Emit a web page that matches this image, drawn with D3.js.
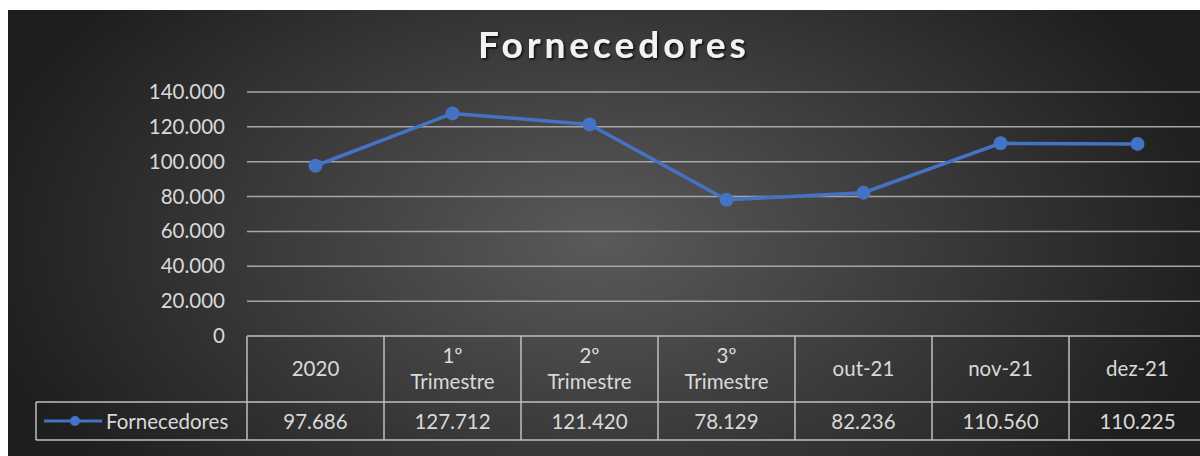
<!DOCTYPE html>
<html>
<head>
<meta charset="utf-8">
<script src="https://cdn.jsdelivr.net/npm/d3@7"></script>
<style>
  body { margin: 0; background: #fff; }
  svg { display: block; }
</style>
</head>
<body>
<div id="chart"></div>
<script>
var categories = ["2020", "1º|Trimestre", "2º|Trimestre", "3º|Trimestre", "out-21", "nov-21", "dez-21"];
var values = [97686, 127712, 121420, 78129, 82236, 110560, 110225];
var yTicks = [0, 20000, 40000, 60000, 80000, 100000, 120000, 140000];
var seriesName = "Fornecedores";

document.addEventListener('DOMContentLoaded', function(){
    var width = 1200, height = 456;
    var left = 247, right = 1206, top = 92, bottom = 336;
    var font = "Lato, 'Open Sans', sans-serif";
    var fs = 20.5;

    var svg = d3.select("#chart").append("svg")
        .attr("width", width)
        .attr("height", height);

    var defs = svg.append("defs");
    var grad = defs.append("radialGradient").attr("id", "bg")
        .attr("gradientUnits", "userSpaceOnUse")
        .attr("cx", 600).attr("cy", 240).attr("r", 620)
        .attr("gradientTransform", "translate(600,240) scale(1,0.6) translate(-600,-240)");
    grad.append("stop").attr("offset", "0%").attr("stop-color", "#5a5a5a");
    grad.append("stop").attr("offset", "100%").attr("stop-color", "#1f1f1f");

    var shadow = defs.append("filter").attr("id", "shadow");
    shadow.append("feDropShadow").attr("dx", 1.5).attr("dy", 1.5)
        .attr("stdDeviation", 1.2).attr("flood-color", "#000").attr("flood-opacity", 0.8);

    svg.append("rect").attr("x", 8).attr("y", 10)
        .attr("width", width - 8).attr("height", height - 10)
        .attr("fill", "url(#bg)");

    var x = d3.scaleBand().domain(categories).range([left, right]);
    var y = d3.scaleLinear().domain([0, 140000]).range([bottom, top]);

    // title
    svg.append("text")
        .attr("x", 614).attr("y", 58)
        .attr("text-anchor", "middle")
        .attr("font-family", font)
        .attr("font-weight", "bold")
        .attr("font-size", 37)
        .attr("letter-spacing", 4)
        .attr("fill", "#f2f2f2")
        .attr("filter", "url(#shadow)")
        .text("Fornecedores");

    // gridlines
    svg.append("g").selectAll("line")
        .data(yTicks.filter(function(d){ return d > 0; }))
        .enter().append("line")
        .attr("x1", left).attr("x2", width)
        .attr("y1", function(d){ return y(d); })
        .attr("y2", function(d){ return y(d); })
        .attr("stroke", "#a6a6a6")
        .attr("stroke-width", 1.5);

    // y axis labels
    var fmt = function(d){ return d === 0 ? "0" : d3.format(",")(d).replace(/,/g, "."); };
    var yAxis = d3.axisLeft(y).tickValues(yTicks).tickSize(0).tickPadding(0).tickFormat(fmt);
    var ya = svg.append("g").attr("transform", "translate(" + (left - 22) + ",0)").call(yAxis);
    ya.select(".domain").remove();
    ya.selectAll("text")
        .attr("font-family", font)
        .attr("font-size", fs)
        .attr("fill", "#d9d9d9")
        .attr("dy", "0.32em");

    // data table
    var tableTop = bottom, rowDiv = 402, tableBottom = 440, legendLeft = 36;
    var grid = svg.append("g").attr("stroke", "#bfbfbf").attr("stroke-width", 1.5).attr("fill", "none");
    grid.append("line").attr("x1", left).attr("x2", width).attr("y1", tableTop).attr("y2", tableTop);
    grid.append("line").attr("x1", legendLeft).attr("x2", width).attr("y1", rowDiv).attr("y2", rowDiv);
    grid.append("line").attr("x1", legendLeft).attr("x2", width).attr("y1", tableBottom).attr("y2", tableBottom);
    grid.append("line").attr("x1", legendLeft).attr("x2", legendLeft).attr("y1", rowDiv).attr("y2", tableBottom);
    grid.selectAll("line.col").data(categories).enter().append("line")
        .attr("class", "col")
        .attr("x1", function(d){ return x(d); })
        .attr("x2", function(d){ return x(d); })
        .attr("y1", tableTop).attr("y2", tableBottom);

    var cats = svg.append("g").selectAll("text").data(categories).enter().append("text")
        .attr("x", function(d){ return x(d) + x.bandwidth() / 2; })
        .attr("y", function(d){ return d.indexOf("|") >= 0 ? 363 : 376; })
        .attr("text-anchor", "middle")
        .attr("font-family", font)
        .attr("font-size", fs)
        .attr("fill", "#d9d9d9");
    cats.each(function(d){
        var parts = d.split("|");
        var t = d3.select(this);
        parts.forEach(function(p, i){
            t.append("tspan")
                .attr("x", x(d) + x.bandwidth() / 2)
                .attr("dy", i === 0 ? 0 : 26)
                .text(p);
        });
    });

    svg.append("g").selectAll("text").data(values).enter().append("text")
        .attr("x", function(d, i){ return x(categories[i]) + x.bandwidth() / 2; })
        .attr("y", 429)
        .attr("text-anchor", "middle")
        .attr("font-family", font)
        .attr("font-size", fs)
        .attr("fill", "#d9d9d9")
        .text(function(d){ return fmt(d); });

    // legend key
    svg.append("line").attr("x1", 44).attr("x2", 102).attr("y1", 421).attr("y2", 421)
        .attr("stroke", "#4472c4").attr("stroke-width", 3);
    svg.append("circle").attr("cx", 75).attr("cy", 421).attr("r", 5).attr("fill", "#4472c4");
    svg.append("text").attr("x", 106).attr("y", 429)
        .attr("font-family", font).attr("font-size", fs).attr("fill", "#d9d9d9")
        .text(seriesName);

    // series
    var line = d3.line()
        .x(function(d, i){ return x(categories[i]) + x.bandwidth() / 2; })
        .y(function(d){ return y(d); });
    svg.append("path").datum(values)
        .attr("d", line)
        .attr("fill", "none")
        .attr("stroke", "#4472c4")
        .attr("stroke-width", 3.5);
    svg.append("g").selectAll("circle").data(values).enter().append("circle")
        .attr("cx", function(d, i){ return x(categories[i]) + x.bandwidth() / 2; })
        .attr("cy", function(d){ return y(d); })
        .attr("r", 7)
        .attr("fill", "#4472c4");
});
</script>
</body>
</html>
